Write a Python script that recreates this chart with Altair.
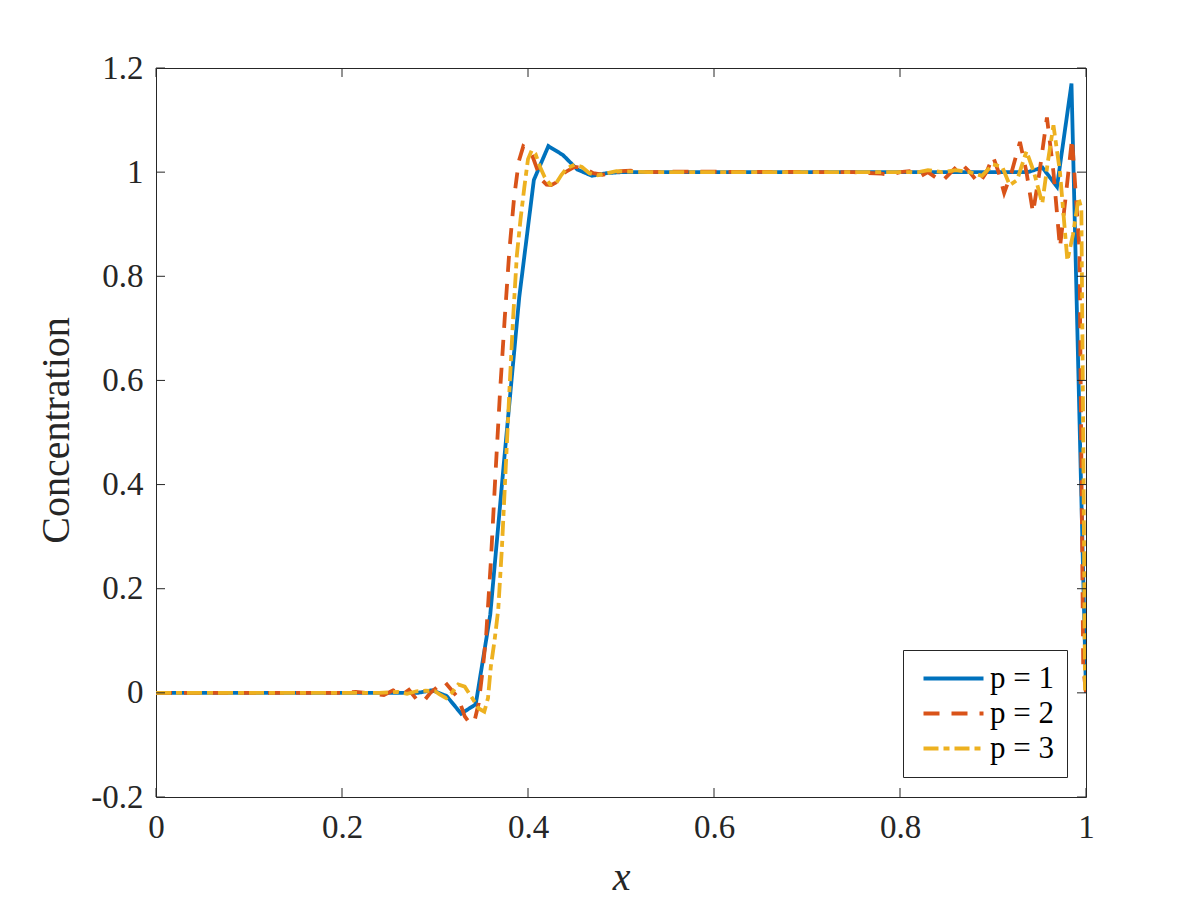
import altair as alt
import pandas as pd

# ---------------- data ----------------
series_names = ["p = 1", "p = 2", "p = 3"]
series_colors = ["#0072BD", "#D95319", "#EDB120"]

x_p1 = [0.0, 0.2813, 0.2969, 0.3125, 0.3281, 0.3438, 0.3594, 0.375, 0.3906,
        0.4063, 0.4219, 0.4375, 0.4531, 0.4688, 0.4844, 0.5, 0.9375, 0.9531,
        0.9688, 0.9844, 1.0]
y_p1 = [0.0, 0.0, 0.005, -0.006, -0.04, -0.022, 0.15, 0.46, 0.76,
        0.985, 1.05, 1.033, 1.005, 0.993, 0.998, 1.0, 1.0, 1.009,
        0.972, 1.17, 0.0]

x_p2 = [0.0, 0.2, 0.215, 0.23, 0.245, 0.255, 0.265, 0.272, 0.28, 0.287,
        0.295, 0.303, 0.31, 0.318, 0.325, 0.332, 0.338, 0.343, 0.347, 0.351,
        0.355, 0.36, 0.365, 0.37, 0.375, 0.38, 0.385, 0.39, 0.395, 0.4,
        0.405, 0.41, 0.415, 0.42, 0.425, 0.43, 0.44, 0.45, 0.46, 0.47,
        0.48, 0.49, 0.5, 0.51, 0.53, 0.55, 0.75, 0.78, 0.79, 0.8,
        0.81, 0.82, 0.83, 0.845, 0.855, 0.865, 0.875, 0.885, 0.893, 0.9,
        0.906, 0.912, 0.92, 0.929, 0.936, 0.943, 0.95, 0.958, 0.965, 0.972,
        0.978, 0.985, 0.993, 0.997, 1.0]
y_p2 = [0.0, 0.0, 0.002, -0.001, -0.004, 0.005, -0.003, 0.006, -0.012, -0.018,
        0.0, 0.012, 0.022, 0.005, -0.01, -0.045, -0.06, -0.05, -0.02, 0.04,
        0.11, 0.25, 0.42, 0.58, 0.72, 0.85, 0.95, 1.02, 1.05, 1.045,
        1.03, 1.005, 0.985, 0.976, 0.975, 0.98, 1.0, 1.01, 1.008, 0.998,
        0.995, 0.998, 1.002, 1.003, 1.0, 1.001, 1.0, 0.997, 0.995, 1.0,
        1.002, 0.99, 1.0, 0.982, 1.0, 1.018, 1.0, 0.978, 1.0, 1.03,
        1.0, 0.96, 1.0, 1.058, 1.0, 0.922, 1.0, 1.105, 1.0, 0.855,
        0.95, 1.065, 0.85, 0.05, 0.0]

x_p3 = [0.0, 0.24, 0.26, 0.27, 0.28, 0.29, 0.3, 0.305, 0.312, 0.318,
        0.325, 0.332, 0.34, 0.347, 0.353, 0.357, 0.36, 0.364, 0.368, 0.372,
        0.376, 0.38, 0.384, 0.388, 0.392, 0.396, 0.4, 0.404, 0.408, 0.413,
        0.418, 0.424, 0.43, 0.436, 0.442, 0.45, 0.458, 0.466, 0.475, 0.485,
        0.495, 0.51, 0.53, 0.82, 0.83, 0.845, 0.86, 0.875, 0.888, 0.9,
        0.91, 0.918, 0.926, 0.936, 0.944, 0.953, 0.959, 0.965, 0.972, 0.98,
        0.986, 0.992, 0.995, 0.997, 0.999, 1.0]
y_p3 = [0.0, 0.0, 0.002, -0.002, 0.003, 0.004, 0.003, -0.003, -0.01, 0.0,
        0.016, 0.012, -0.01, -0.03, -0.036, -0.01, 0.05, 0.1, 0.16, 0.28,
        0.43, 0.58, 0.72, 0.84, 0.91, 0.97, 1.025, 1.042, 1.035, 1.01,
        0.99, 0.976, 0.978, 0.995, 1.008, 1.014, 1.01, 0.998, 0.994, 0.998,
        1.002, 1.001, 1.0, 1.0, 1.004, 1.0, 1.004, 1.0, 0.993, 1.015,
        1.01, 0.975, 0.985, 1.04, 1.0, 0.94, 1.02, 1.09, 1.0, 0.83,
        0.88, 0.95, 0.93, 0.5, 0.0, 0.0]

x_ticks = [0.0, 0.2, 0.4, 0.6, 0.8, 1.0]
y_ticks = [-0.2, 0.0, 0.2, 0.4, 0.6, 0.8, 1.0, 1.2]

# ---------------- build tables ----------------
rows = []
for name, xs, ys in zip(series_names, [x_p1, x_p2, x_p3], [y_p1, y_p2, y_p3]):
    for xv, yv in zip(xs, ys):
        rows.append({"x": xv, "y": yv, "series": name})
df = pd.DataFrame(rows)

W, H = 930, 729
FONT = "Liberation Serif"
AX = "#262626"

xscale = alt.Scale(domain=[0, 1], nice=False, zero=False)
yscale = alt.Scale(domain=[-0.2, 1.2], nice=False, zero=False)

legend_cfg = dict(
    title=None, orient="none", legendX=747, legendY=582,
    strokeColor=AX, fillColor="white", padding=13, cornerRadius=0,
    symbolType="M-3,0H3", symbolSize=400, symbolStrokeWidth=3.8,
    symbolOffset=22, labelOffset=21, labelFont=FONT, labelFontSize=31,
    labelColor="black", rowPadding=3, labelLimit=300,
)

lines = alt.Chart(df).mark_line(strokeWidth=3.8, clip=True).encode(
    x=alt.X("x:Q", scale=xscale,
            axis=alt.Axis(values=x_ticks, title="x", titleFontStyle="italic",
                          titleFontSize=40, titleX=465, titleY=80,
                          titleBaseline="middle", labelPadding=14,
                          labelExpr="'' + datum.value")),
    y=alt.Y("y:Q", scale=yscale,
            axis=alt.Axis(values=y_ticks, title="Concentration",
                          titleFontSize=40, titleX=-100, titleY=362,
                          titleAngle=-90, titleAlign="center",
                          titleBaseline="middle", labelPadding=13,
                          labelExpr="'' + datum.value")),
    color=alt.Color("series:N",
                    scale=alt.Scale(domain=series_names, range=series_colors),
                    legend=alt.Legend(**legend_cfg)),
    strokeDash=alt.StrokeDash("series:N",
                              scale=alt.Scale(domain=series_names,
                                              range=[[1, 0], [16, 12], [15, 5, 6, 5]]),
                              legend=alt.Legend(**legend_cfg)),
)

xt = pd.DataFrame({"x": x_ticks})
yt = pd.DataFrame({"y": y_ticks})
tick_style = dict(color=AX, strokeWidth=1)

xb = alt.Chart(xt).mark_rule(**tick_style).encode(
    x=alt.X("x:Q", scale=xscale), y=alt.value(H), y2=alt.value(H - 9))
xtop = alt.Chart(xt).mark_rule(**tick_style).encode(
    x=alt.X("x:Q", scale=xscale), y=alt.value(0), y2=alt.value(9))
yl = alt.Chart(yt).mark_rule(**tick_style).encode(
    y=alt.Y("y:Q", scale=yscale), x=alt.value(0), x2=alt.value(9))
yr = alt.Chart(yt).mark_rule(**tick_style).encode(
    y=alt.Y("y:Q", scale=yscale), x=alt.value(W), x2=alt.value(W - 9))

chart = alt.layer(lines, xb, xtop, yl, yr).properties(
    width=W, height=H,
    autosize=alt.AutoSizeParams(type="none"),
    padding={"left": 156, "top": 68, "right": 114, "bottom": 103},
    background="white",
).configure_view(
    stroke=AX, strokeWidth=1
).configure_axis(
    grid=False, domain=False, ticks=False,
    labelFont=FONT, labelFontSize=33, labelColor=AX,
    titleFont=FONT, titleColor=AX, titleFontWeight="normal",
    labelFlush=False, labelOverlap=False,
)

chart.save("out.html", embed_options={"renderer": "svg", "actions": False})
